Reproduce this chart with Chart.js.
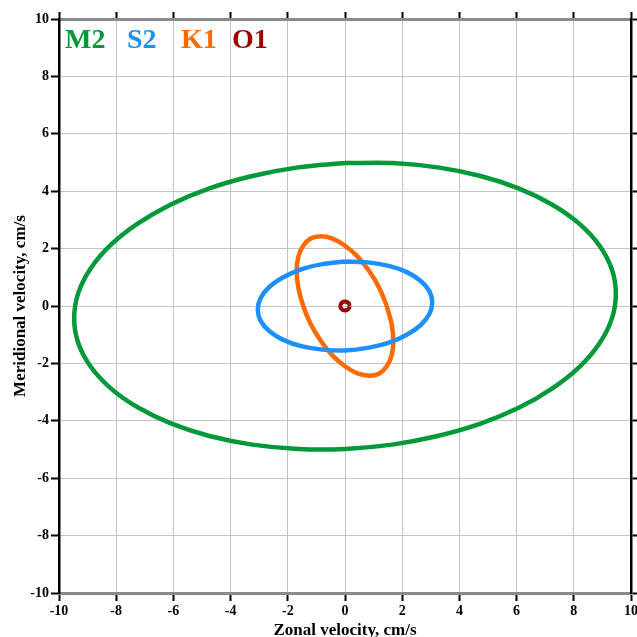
<!DOCTYPE html>
<html>
<head>
<meta charset="utf-8">
<script src="https://cdn.jsdelivr.net/npm/chart.js@4/dist/chart.umd.min.js"></script>
<style>
  html, body { margin: 0; padding: 0; overflow: hidden; background: #fff; }
  #myChart { display: block; }
</style>
</head>
<body>
<canvas id="myChart" width="650" height="645"></canvas>
<script>
// tidal constituents and their current ellipses (zonal / meridional, cm/s)
var constituents = ['M2', 'S2', 'K1', 'O1'];
var colors = ['#00993a', '#1e8fff', '#ff6a00', '#990000'];

var m2Zonal = [0, -1.64, -3.24, -4.74, -6.09, -7.25, -8.20, -8.90, -9.33, -9.47, -9.33, -8.90, -8.20, -7.25, -6.09, -4.74, -3.24, -1.64, 0, 1.64, 3.24, 4.74, 6.09, 7.25, 8.20, 8.90, 9.33, 9.47, 9.33, 8.90, 8.20, 7.25, 6.09, 4.74, 3.24, 1.64, 0];
var m2Meridional = [4.98, 4.83, 4.53, 4.10, 3.54, 2.87, 2.12, 1.30, 0.44, -0.43, -1.28, -2.10, -2.86, -3.53, -4.09, -4.53, -4.83, -4.98, -4.98, -4.83, -4.53, -4.10, -3.54, -2.87, -2.12, -1.30, -0.44, 0.43, 1.28, 2.10, 2.86, 3.53, 4.09, 4.53, 4.83, 4.98, 4.98];

var s2Zonal = [0, -0.79, -1.53, -2.16, -2.64, -2.95, -3.05, -2.95, -2.64, -2.16, -1.53, -0.79, 0, 0.79, 1.53, 2.16, 2.64, 2.95, 3.05, 2.95, 2.64, 2.16, 1.53, 0.79, 0];
var s2Meridional = [1.55, 1.46, 1.28, 1.00, 0.67, 0.28, -0.12, -0.52, -0.88, -1.18, -1.40, -1.52, -1.55, -1.46, -1.28, -1.00, -0.67, -0.28, 0.12, 0.52, 0.88, 1.18, 1.40, 1.52, 1.55];

var k1Zonal = [1.46, 1.20, 0.85, 0.44, 0, -0.44, -0.85, -1.20, -1.46, -1.63, -1.69, -1.63, -1.46, -1.20, -0.85, -0.44, 0, 0.44, 0.85, 1.20, 1.46, 1.63, 1.69, 1.63, 1.46];
var k1Meridional = [0, 0.63, 1.21, 1.72, 2.10, 2.35, 2.43, 2.35, 2.10, 1.72, 1.22, 0.63, 0, -0.63, -1.21, -1.72, -2.10, -2.35, -2.43, -2.35, -2.10, -1.72, -1.22, -0.63, 0];

var o1Zonal = [0.16, 0.14, 0.08, 0, -0.08, -0.14, -0.16, -0.14, -0.08, 0, 0.08, 0.14, 0.16];
var o1Meridional = [0, 0.08, 0.135, 0.155, 0.135, 0.08, 0, -0.08, -0.135, -0.155, -0.135, -0.08, 0];

var axisTicks = [-10, -8, -6, -4, -2, 0, 2, 4, 6, 8, 10];

function toPoints(xs, ys) {
    return xs.map((x, i) => ({x: x, y: ys[i]}));
}

var series = [
    toPoints(m2Zonal, m2Meridional),
    toPoints(s2Zonal, s2Meridional),
    toPoints(k1Zonal, k1Meridional),
    toPoints(o1Zonal, o1Meridional)
];

var serif = "'Liberation Serif', 'Times New Roman', serif";
var tickFont = {family: serif, size: 14, weight: 'bold'};
var titleFont = {family: serif, size: 17, weight: 'bold'};

function sized(w, h) {
    return function(scale) {
        if (w !== null) scale.width = w;
        if (h !== null) scale.height = h;
        scale.paddingLeft = 0;
        scale.paddingRight = 0;
        scale.paddingTop = 0;
        scale.paddingBottom = 0;
    };
}

function tickSet(axis) {
    axis.ticks = axisTicks.map(v => ({value: v}));
}

// coloured constituent names in the upper left corner
var labelPlugin = {
    id: 'constituentLabels',
    afterDatasetsDraw(chart) {
        var ctx = chart.ctx;
        var xs = [65, 127, 181, 232];
        ctx.save();
        ctx.font = "bold 28px " + serif;
        ctx.textAlign = 'left';
        ctx.textBaseline = 'alphabetic';
        constituents.forEach((name, i) => {
            ctx.fillStyle = colors[i];
            ctx.fillText(name, xs[i], 48);
        });
        ctx.restore();
    }
};

var ctx = document.getElementById('myChart').getContext('2d');
var myChart = new Chart(ctx, {
    type: 'scatter',
    data: {
        datasets: constituents.map((name, i) => ({
            label: name,
            data: series[i],
            showLine: true,
            tension: 0.3,
            borderColor: colors[i],
            backgroundColor: 'transparent',
            borderWidth: i === 3 ? 4 : 4.5,
            pointRadius: 0,
            fill: false
        }))
    },
    options: {
        responsive: false,
        animation: false,
        layout: {padding: 0},
        plugins: {
            legend: {display: false},
            tooltip: {enabled: false}
        },
        scales: {
            x: {
                type: 'linear',
                position: 'bottom',
                min: -10,
                max: 10,
                afterBuildTicks: tickSet,
                afterFit: sized(null, 52),
                ticks: {font: tickFont, color: '#000', padding: 2, maxRotation: 0, autoSkip: false},
                grid: {color: '#c4c4c4', lineWidth: 1, tickColor: '#000', tickLength: 8, tickWidth: 2},
                border: {color: '#8a8a8a', width: 3},
                title: {display: true, text: 'Zonal velocity, cm/s', font: titleFont, color: '#000', padding: {top: 0, bottom: 4}}
            },
            x2: {
                type: 'linear',
                axis: 'x',
                position: 'top',
                min: -10,
                max: 10,
                afterBuildTicks: tickSet,
                afterFit: sized(null, 19),
                ticks: {display: false},
                grid: {drawOnChartArea: false, tickColor: '#000', tickLength: 7, tickWidth: 2},
                border: {color: '#8a8a8a', width: 3}
            },
            y: {
                type: 'linear',
                position: 'left',
                min: -10,
                max: 10,
                afterBuildTicks: tickSet,
                afterFit: sized(59, null),
                ticks: {font: tickFont, color: '#000', padding: 2},
                grid: {color: '#c4c4c4', lineWidth: 1, tickColor: '#000', tickLength: 8, tickWidth: 2},
                border: {color: '#000', width: 2.5},
                title: {display: true, text: 'Meridional velocity, cm/s', font: titleFont, color: '#000', padding: {top: 10, bottom: 0}}
            },
            y2: {
                type: 'linear',
                axis: 'y',
                position: 'right',
                min: -10,
                max: 10,
                afterBuildTicks: tickSet,
                afterFit: sized(19, null),
                ticks: {display: false},
                grid: {drawOnChartArea: false, tickColor: '#000', tickLength: 6, tickWidth: 2},
                border: {color: '#000', width: 2.5}
            }
        }
    },
    plugins: [labelPlugin]
});
</script>
</body>
</html>
